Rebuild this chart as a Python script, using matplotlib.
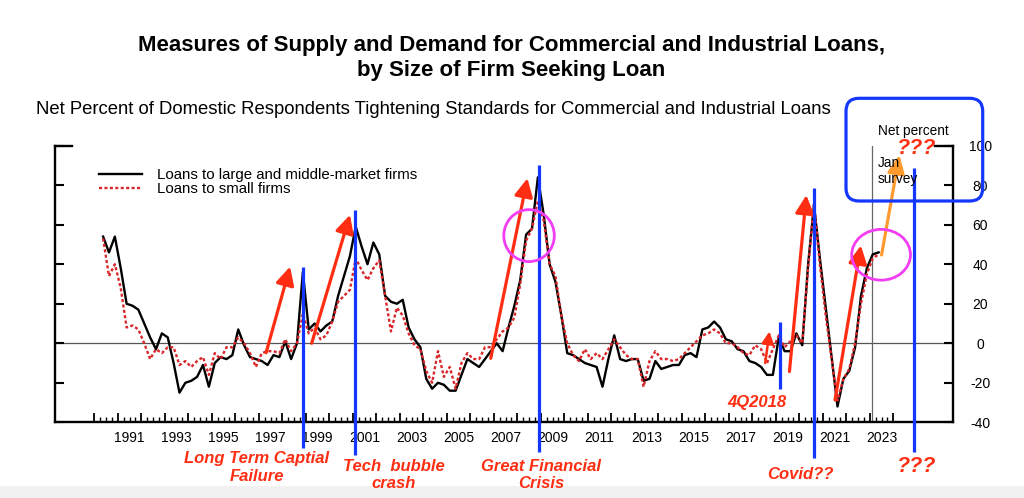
import numpy as np
import matplotlib
matplotlib.use("Agg")
import matplotlib.pyplot as plt
from matplotlib.patches import Ellipse, FancyBboxPatch, Rectangle
from matplotlib.lines import Line2D

plt.rcParams['font.family'] = ['Liberation Sans', 'DejaVu Sans']
plt.rcParams['axes.unicode_minus'] = False

# ---------------- data (quarterly, 1990Q2 .. 2023Q2) ----------------
first_quarter = (1990, 2)
large_firms = [
    54, 46, 54,            # 1990
    38, 20, 19, 17,        # 1991
    10, 3, -3, 5,          # 1992
    3, -10, -25, -20,      # 1993
    -19, -17, -11, -22,    # 1994
    -10, -7, -8, -6,       # 1995
    7, -1, -7, -8,         # 1996
    -9, -11, -6, -7,       # 1997
    1, -8, 0, 36,          # 1998
    7, 10, 6, 9,           # 1999
    11, 24, 34, 44,        # 2000
    59, 49, 40, 51,        # 2001
    45, 24, 21, 20,        # 2002
    22, 8, 2, -2,          # 2003
    -18, -23, -20, -21,    # 2004
    -24, -24, -16, -8,     # 2005
    -10, -12, -8, -4,      # 2006
    0, -4, 8, 19,          # 2007
    32, 55, 58, 84,        # 2008
    65, 40, 31, 14,        # 2009
    -5, -6, -8, -10,       # 2010
    -11, -12, -22, -8,     # 2011
    4, -8, -9, -8,         # 2012
    -8, -19, -18, -9,      # 2013
    -13, -12, -11, -11,    # 2014
    -6, -5, -7, 7,         # 2015
    8, 11, 8, 2,           # 2016
    1, -3, -4, -9,         # 2017
    -10, -12, -16, -16,    # 2018
    3, -4, -4, 5,          # 2019
    -1, 40, 70, 43,        # 2020
    18, -7, -32, -18,      # 2021
    -14, -2, 24, 38,       # 2022
    45, 46,                # 2023
]
small_firms = [
    53, 34, 40,            # 1990
    28, 8, 9, 7,           # 1991
    0, -8, -3, -5,         # 1992
    -2, -2, -11, -9,       # 1993
    -12, -9, -7, -16,      # 1994
    -5, -8, -2, -2,        # 1995
    3, 0, -5, -12,         # 1996
    -5, -4, -4, -5,        # 1997
    2, -4, 0, 15,          # 1998
    5, 8, 2, 4,            # 1999
    11, 21, 24, 27,        # 2000
    43, 37, 32, 38,        # 2001
    42, 24, 6, 18,         # 2002
    14, 5, -1, -3,         # 2003
    -14, -20, -4, -17,     # 2004
    -12, -23, -10, -5,     # 2005
    -8, -8, -2, -2,        # 2006
    2, 6, 8, 13,           # 2007
    30, 52, 58, 72,        # 2008
    62, 40, 34, 14,        # 2009
    0, -6, -9, -3,         # 2010
    -8, -5, -8, -3,        # 2011
    2, -2, -6, -8,         # 2012
    -8, -22, -9, -4,       # 2013
    -8, -8, -9, -8,        # 2014
    -5, -2, 1, 4,          # 2015
    5, 7, 5, 0,            # 2016
    0, -2, -5, -6,         # 2017
    -1, -3, -10, -3,       # 2018
    4, -2, 1, 4,           # 2019
    0, 38, 71, 40,         # 2020
    14, -8, -29, -18,      # 2021
    -13, 0, 20, 35,        # 2022
    43, 45,                # 2023
]
series_labels = ["Loans to large and middle-market firms", "Loans to small firms"]
year_labels = [str(y) for y in range(1991, 2024, 2)]
y_ticks = [-40, -20, 0, 20, 40, 60, 80, 100]

# annotations (year, value)
red_arrows = [((1997.31, -4.8), (1998.33, 38.8)),
              ((1999.25, 0.0), (2000.88, 65.0)),
              ((2006.87, -7.6), (2008.43, 83.5)),
              ((2019.58, -14.3), (2020.30, 75.0)),
              ((2021.52, -28.7), (2022.62, 49.5))]
small_arrow = ((2018.55, -10.0), (2018.73, 6.0))
orange_arrow = ((2023.50, 44.7), (2024.26, 95.3))
blue_lines = [(1998.88, 38.8, -53.0), (2001.09, 67.5, -56.5), (2008.94, 90.2, -55.0),
              (2019.18, 10.9, -23.3), (2020.63, 78.4, -58.2), (2024.88, 88.6, -54.9)]
circles = [(2008.5, 54.5, 2.15, 26.3), (2023.48, 44.8, 2.5, 25.7)]
jan_survey_x = 2023.1

# ---------------- figure ----------------
W, H = 1024, 498
fig = plt.figure(figsize=(W / 100, H / 100), dpi=100)
fig.patch.set_facecolor('white')

def fx(px):
    return px / W

def fy(py):
    return 1 - py / H

# light grey strip at the bottom of the screenshot
fig.add_artist(Rectangle((0, 0), 1, fy(486), transform=fig.transFigure,
                         facecolor='#F1F1F1', edgecolor='none', zorder=-5))

ax_l, ax_r, ax_t, ax_b = 54.7, 953.0, 145.7, 422.3
ax = fig.add_axes([fx(ax_l), fy(ax_b), fx(ax_r - ax_l), (ax_b - ax_t) / H])
ax.set_facecolor('none')

n = len(large_firms)
start = first_quarter[0] + (first_quarter[1] - 1) * 0.25
t = start + 0.125 + 0.25 * np.arange(n)

ax.axhline(0, color='#555555', lw=0.9, zorder=1)
ax.axvline(jan_survey_x, color='#666666', lw=0.9, zorder=1)

ax.plot(t, large_firms, color='black', lw=1.7, zorder=3, label=series_labels[0])
ax.plot(t, small_firms, color='#D8262A', lw=1.7, ls=(0, (1.3, 1.0)), zorder=4,
        label=series_labels[1])

ax.set_xlim(1988.315, 2026.54)
ax.set_ylim(-40, 100)

for s in ['left', 'right', 'bottom']:
    ax.spines[s].set_linewidth(1.7)
ax.spines['top'].set_visible(False)

ax.set_yticks(y_ticks)
ax.tick_params(axis='y', which='major', direction='in', length=6.5, width=1.5,
               left=True, right=True, labelleft=False, labelright=True,
               labelsize=10, pad=19.5)
for lab in ax.get_yticklabels():
    lab.set_horizontalalignment('center')

ax.set_xticks(np.arange(1990, 2025, 1))
ax.set_xticks(np.arange(1990, 2024.01, 0.25), minor=True)
ax.tick_params(axis='x', which='major', direction='in', length=6.5, width=1.3,
               labelbottom=False)
ax.tick_params(axis='x', which='minor', direction='in', length=3.8, width=1.0)

sec = ax.secondary_xaxis('bottom')
sec.set_xticks([int(y) + 0.5 for y in year_labels], labels=year_labels)
sec.tick_params(length=0, pad=6.5, labelsize=10)
sec.spines['bottom'].set_visible(False)

# longer top ticks
ax.add_line(Line2D([0, 17 / (ax_r - ax_l)], [1, 1], transform=ax.transAxes,
                   color='black', lw=1.7, clip_on=False))
ax.add_line(Line2D([1 - 18 / (ax_r - ax_l), 1], [1, 1], transform=ax.transAxes,
                   color='black', lw=1.7, clip_on=False))

leg = ax.legend(loc='upper left', bbox_to_anchor=(0.0493, 0.918), frameon=False,
                fontsize=10.8, handlelength=2.87, handletextpad=0.98,
                labelspacing=0.0, borderpad=0, borderaxespad=0)

# ---------------- annotations ----------------
RED = '#FF2E12'
BLUE = '#1437FF'
for (x0, y0), (x1, y1) in red_arrows:
    ax.annotate('', xy=(x1, y1), xytext=(x0, y0),
                arrowprops=dict(arrowstyle='-|>,head_length=0.55,head_width=0.28',
                                color=RED, lw=2.3, mutation_scale=20,
                                shrinkA=0, shrinkB=0), zorder=6)
(x0, y0), (x1, y1) = small_arrow
ax.annotate('', xy=(x1, y1), xytext=(x0, y0),
            arrowprops=dict(arrowstyle='-|>,head_length=0.4,head_width=0.2',
                            color=RED, lw=1.8, mutation_scale=18,
                            shrinkA=0, shrinkB=0), zorder=6)
(x0, y0), (x1, y1) = orange_arrow
ax.annotate('', xy=(x1, y1), xytext=(x0, y0),
            arrowprops=dict(arrowstyle='-|>,head_length=0.55,head_width=0.26',
                            color='#FF9A2E', lw=2.3, mutation_scale=20,
                            shrinkA=0, shrinkB=0), zorder=6, annotation_clip=False)

for x, ytop, ybot in blue_lines:
    ax.plot([x, x], [ybot, ytop], color=BLUE, lw=2.3, clip_on=False, zorder=7,
            solid_capstyle='butt')

for cx, cy, w, h in circles:
    ax.add_patch(Ellipse((cx, cy), w, h, facecolor='none', edgecolor='#F23DF2',
                         lw=2.0, clip_on=False, zorder=8))

# blue rounded box (inches)
bx0, bx1, by0, by1 = 846 / 100, 982.7 / 100, (H - 201) / 100, (H - 98.3) / 100
fig.add_artist(FancyBboxPatch((bx0, by0), bx1 - bx0, by1 - by0,
                              boxstyle='round,pad=0,rounding_size=0.13',
                              transform=fig.dpi_scale_trans, facecolor='none',
                              edgecolor=BLUE, lw=2.3, zorder=9))

# ---------------- texts ----------------
fig.text(fx(511.5), fy(58), "Measures of Supply and Demand for Commercial and Industrial Loans,\n"
         "by Size of Firm Seeking Loan", ha='center', va='center', fontsize=16.0,
         fontweight='bold', linespacing=1.22)
fig.text(fx(433), fy(110), "Net Percent of Domestic Respondents Tightening Standards for "
         "Commercial and Industrial Loans", ha='center', va='center', fontsize=13.3)
fig.text(fx(878), fy(130.7), "Net percent", ha='left', va='center', fontsize=9.8)
fig.text(fx(878), fy(163.3), "Jan", ha='left', va='center', fontsize=9.8)
fig.text(fx(878), fy(179.3), "survey", ha='left', va='center', fontsize=9.8)

red_kw = dict(color=RED, fontweight='bold', fontstyle='italic', ha='center',
              va='center', fontsize=12)
fig.text(fx(257), fy(458), "Long Term Captial", **red_kw)
fig.text(fx(257), fy(476.5), "Failure", **red_kw)
fig.text(fx(393.5), fy(466), "Tech  bubble", **red_kw)
fig.text(fx(393.5), fy(483.5), "crash", **red_kw)
fig.text(fx(541), fy(466), "Great Financial", **red_kw)
fig.text(fx(541), fy(483.5), "Crisis", **red_kw)
fig.text(fx(757), fy(402.7), "4Q2018", **red_kw)
fig.text(fx(800), fy(474.5), "Covid??", **red_kw)
big_kw = dict(red_kw, fontsize=15.5)
fig.text(fx(916), fy(148), "???", zorder=10, **big_kw)
fig.text(fx(916), fy(466.5), "???", **big_kw)

fig.savefig('out.png', dpi=100, facecolor='white')
